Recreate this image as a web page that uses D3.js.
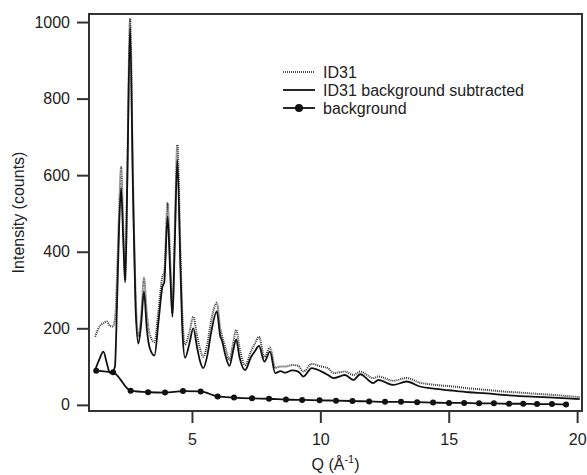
<!DOCTYPE html>
<html lang="en">
<head>
<meta charset="utf-8">
<title>ID31 intensity</title>
<script src="https://d3js.org/d3.v7.min.js"></script>
<style>
body { margin: 0; background: #fff; }
text { font-family: "Liberation Sans", Arial, sans-serif; fill: #222; }
</style>
</head>
<body>
<div id="chart"></div>
<script>
// Q grid shared by the two measured curves
var q = [1.23, 1.40, 1.55, 1.68, 1.81, 1.92, 2.00, 2.08, 2.16, 2.24, 2.33, 2.40, 2.48, 2.59, 2.70, 2.80, 2.91,
  3.02, 3.13, 3.24, 3.35, 3.54, 3.70, 3.85, 3.92, 4.05, 4.15, 4.24, 4.33, 4.43, 4.55, 4.63, 4.73, 4.90,
  5.05, 5.20, 5.30, 5.44, 5.60, 5.75, 5.97, 6.10, 6.16, 6.30, 6.46, 6.60, 6.72, 6.85, 7.07, 7.30, 7.45,
  7.61, 7.82, 8.04, 8.24, 8.45, 8.63, 8.90, 9.14, 9.34, 9.66, 10.05, 10.30, 10.51, 10.96, 11.29, 11.55,
  12.06, 12.26, 12.84, 13.36, 13.88, 14.50, 15.18, 15.80, 16.48, 17.10, 17.77, 18.40, 19.07, 19.60, 20.10];
var id31 = [178, 205, 213, 218, 206, 205, 222, 330, 500, 621, 450, 326, 600, 1009, 600, 300, 178,
  230, 331, 240, 185, 164, 250, 335, 345, 528, 380, 240, 450, 679, 400, 230, 157, 190,
  230, 180, 150, 126, 160, 220, 267, 200, 183, 150, 117, 160, 196, 150, 104, 140, 160,
  178, 125, 150, 97, 100, 100, 104, 102, 87, 107, 100, 96, 83, 87, 78, 87,
  70, 74, 63, 70, 58, 52, 48, 43, 39, 35, 32, 29, 26, 23, 20];
var subtracted = [91, 120, 139, 110, 83, 88, 100, 260, 460, 566, 420, 320, 580, 985, 570, 260, 160,
  210, 296, 200, 150, 129, 220, 309, 320, 492, 350, 230, 420, 640, 360, 190, 123, 160,
  200, 150, 118, 96, 130, 190, 244, 180, 170, 130, 102, 140, 171, 125, 91, 125, 140,
  154, 113, 139, 83, 88, 84, 90, 87, 74, 96, 87, 78, 70, 78, 65, 80,
  57, 65, 52, 61, 48, 42, 37, 33, 30, 26, 23, 21, 19, 17, 15];

// background (marker points)
var bgQ = [1.27, 1.93, 2.61, 3.29, 3.95, 4.65, 5.34, 6.00, 6.64, 7.34, 8.00, 8.66, 9.29, 9.97, 10.61,
  11.25, 11.90, 12.52, 13.14, 13.77, 14.39, 15.01, 15.60, 16.18, 16.76, 17.35, 17.90, 18.44, 19.02, 19.57];
var bgI = [89, 85, 37, 33, 32, 36, 35, 22, 19, 17, 16, 14, 13, 12, 11,
  10, 9, 8, 8, 7, 6, 5, 5, 4, 4, 3, 3, 2, 2, 1];

var xTicks = [5, 10, 15, 20];
var yTicks = [0, 200, 400, 600, 800, 1000];
var legendLabels = ["ID31", "ID31 background subtracted", "background"];

var W = 587, H = 475;
var mLeft = 89, mRight = 582, mTop = 14, mBottom = 411;

var svg = d3.select("#chart").append("svg")
  .attr("width", W).attr("height", H);

var x = d3.scaleLinear().domain([0.99, 20.19]).range([mLeft, mRight]);
var y = d3.scaleLinear().domain([-16, 1021]).range([mBottom, mTop]);

svg.append("clipPath").attr("id", "clip")
  .append("rect").attr("x", mLeft).attr("y", mTop)
  .attr("width", mRight - mLeft).attr("height", mBottom - mTop);

var line = d3.line()
  .x(function (d) { return x(d[0]); })
  .y(function (d) { return y(d[1]); })
  .curve(d3.curveMonotoneX);

var plot = svg.append("g").attr("clip-path", "url(#clip)");

plot.append("path")
  .datum(q.map(function (v, i) { return [v, id31[i]]; }))
  .attr("d", line)
  .attr("fill", "none")
  .attr("stroke", "#333")
  .attr("stroke-width", 2)
  .attr("stroke-dasharray", "1,1");

plot.append("path")
  .datum(q.map(function (v, i) { return [v, subtracted[i]]; }))
  .attr("d", line)
  .attr("fill", "none")
  .attr("stroke", "#111")
  .attr("stroke-width", 1.8);

var bg = bgQ.map(function (v, i) { return [v, bgI[i]]; });
plot.append("path")
  .datum(bg)
  .attr("d", line)
  .attr("fill", "none")
  .attr("stroke", "#111")
  .attr("stroke-width", 1.8);

plot.selectAll(".bgdot").data(bg).enter().append("circle")
  .attr("class", "bgdot")
  .attr("cx", function (d) { return x(d[0]); })
  .attr("cy", function (d) { return y(d[1]); })
  .attr("r", 3)
  .attr("fill", "#111");

// frame
svg.append("rect")
  .attr("x", mLeft).attr("y", mTop)
  .attr("width", mRight - mLeft).attr("height", mBottom - mTop)
  .attr("fill", "none").attr("stroke", "#333").attr("stroke-width", 2);

// axes
var yAxis = svg.append("g")
  .attr("transform", "translate(" + mLeft + ",0)")
  .call(d3.axisLeft(y).tickValues(yTicks).tickFormat(d3.format("d")).tickSize(12).tickPadding(7));
var xAxis = svg.append("g")
  .attr("transform", "translate(0," + mBottom + ")")
  .call(d3.axisBottom(x).tickValues(xTicks).tickFormat(d3.format("d")).tickSize(12).tickPadding(11));

[yAxis, xAxis].forEach(function (a) {
  a.select(".domain").remove();
  a.selectAll(".tick line").attr("stroke", "#333").attr("stroke-width", 2);
  a.selectAll(".tick text")
    .style("font-family", "'Liberation Sans', Arial, sans-serif")
    .style("font-size", "16px").attr("fill", "#222");
});

// axis titles
svg.append("text")
  .attr("transform", "translate(24," + ((mTop + mBottom) / 2) + ") rotate(-90)")
  .attr("text-anchor", "middle")
  .style("font-size", "16px")
  .text("Intensity (counts)");

var xt = svg.append("text")
  .attr("x", (mLeft + mRight) / 2).attr("y", 470)
  .attr("text-anchor", "middle")
  .style("font-size", "16px");
xt.append("tspan").text("Q (Å");
xt.append("tspan").attr("dy", -7).style("font-size", "11px").text("-1");
xt.append("tspan").attr("dy", 7).text(")");

// legend
var legend = svg.append("g");
var ly = [72, 90, 108];
legendLabels.forEach(function (lab, i) {
  var g = legend.append("g").attr("transform", "translate(0," + ly[i] + ")");
  var ln = g.append("line").attr("x1", 283).attr("x2", 315)
    .attr("stroke", "#111").attr("stroke-width", i === 0 ? 1.5 : 1.8);
  if (i === 0) ln.attr("stroke-dasharray", "1,1");
  if (i === 2) g.append("circle").attr("cx", 299).attr("r", 4).attr("fill", "#111");
  g.append("text").attr("x", 323).attr("dy", "0.35em")
    .style("font-size", "16px").text(lab);
});
</script>
</body>
</html>
